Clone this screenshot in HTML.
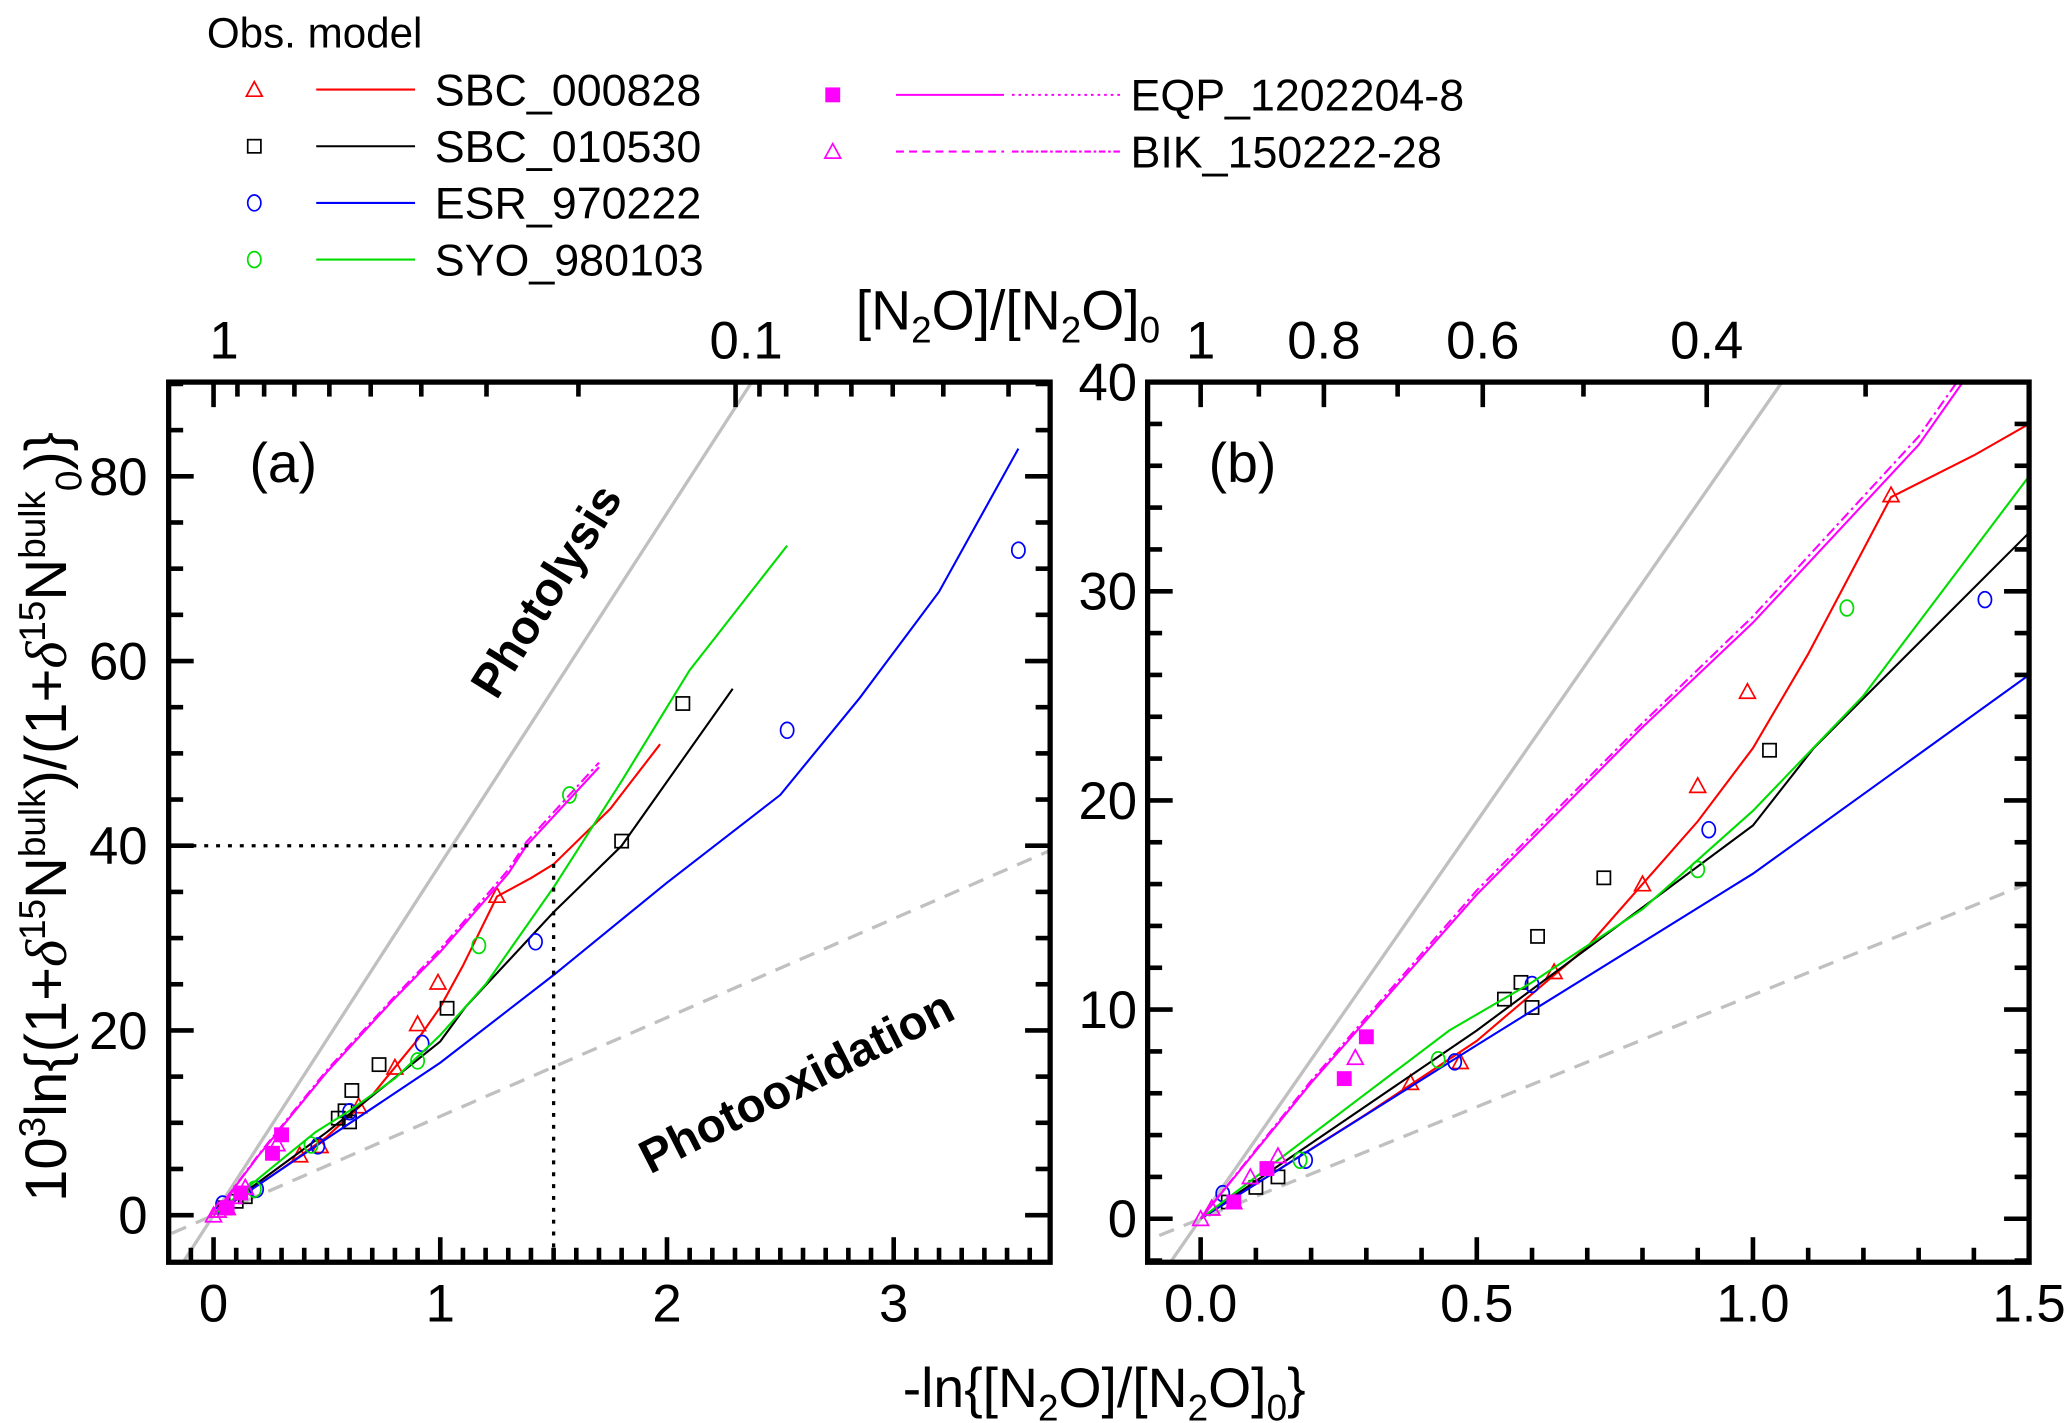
<!DOCTYPE html>
<html><head><meta charset="utf-8"><style>
html,body{margin:0;padding:0;background:#fff;}
svg{display:block;}
text{font-family:"Liberation Sans",Arial,sans-serif;}
</style></head><body>
<svg id="chart" width="2066" height="1423" viewBox="0 0 1568 1080" xmlns="http://www.w3.org/2000/svg">
<defs>
<clipPath id="clipA"><rect x="128" y="290" width="669" height="668"/></clipPath>
<clipPath id="clipB"><rect x="871" y="290" width="669" height="668"/></clipPath>
</defs>
<g id="legend"></g>
<g id="panelA"></g>
<g id="panelB"></g>
<text transform="translate(50,620) rotate(-90)" text-anchor="middle" font-size="44">10<tspan font-size="28" dy="-16">3</tspan><tspan dy="16">ln{(1+</tspan><tspan font-style="italic" font-family="Liberation Serif">δ</tspan><tspan font-size="28" dy="-16">15</tspan><tspan dy="16">N</tspan><tspan font-size="28" dy="-16">bulk</tspan><tspan dy="16">)/(1+</tspan><tspan font-style="italic" font-family="Liberation Serif">δ</tspan><tspan font-size="28" dy="-16">15</tspan><tspan dy="16">N</tspan><tspan font-size="28" dy="-16">bulk</tspan><tspan font-size="28" dy="28">0</tspan><tspan dy="-12">)}</tspan></text>
<text x="838" y="1068" text-anchor="middle" font-size="42">-ln{[N<tspan font-size="28" dy="10">2</tspan><tspan dy="-10">O]/[N</tspan><tspan font-size="28" dy="10">2</tspan><tspan dy="-10">O]</tspan><tspan font-size="28" dy="10">0</tspan><tspan dy="-10">}</tspan></text>
<text x="765" y="250" text-anchor="middle" font-size="42">[N<tspan font-size="28" dy="10">2</tspan><tspan dy="-10">O]/[N</tspan><tspan font-size="28" dy="10">2</tspan><tspan dy="-10">O]</tspan><tspan font-size="28" dy="10">0</tspan></text>
</svg>
<script>
// ---- data ----
const photolysisSlope = 38;
const photooxSlope = 10.7;
const sbc000828LineX = [0,0.3,0.5,0.7,0.9,1.0,1.1,1.25,1.4,1.5,1.75,1.97];
const sbc000828LineY = [0,5,8.5,13,19,22.5,27,34.5,36.5,38,44,51];
const sbc010530LineX = [0,0.5,1.0,1.11,1.5,1.8,2.29];
const sbc010530LineY = [0,9,18.8,22.5,32.8,40,57];
const esrLineX = [0,0.5,1.0,1.5,2.0,2.5,2.85,3.2,3.55];
const esrLineY = [0,8.3,16.5,26,36,45.5,56,67.5,83];
const syoLineX = [0,0.3,0.45,0.6,0.8,1.0,1.2,1.5,1.8,2.1,2.53];
const syoLineY = [0,6,9,11.3,14.8,19.5,25,35.5,47,59,72.5];
const eqpLineX = [0,0.2,0.5,0.8,1.0,1.3,1.38,1.7];
const eqpLineY = [0,6.5,15.5,23.5,28.5,37,40,48.5];
const bikLineX = [0,0.2,0.5,0.8,1.0,1.3,1.38,1.7];
const bikLineY = [0,6.6,15.7,23.7,28.8,37.4,40.4,49];
const sbc000828PtX = [0.02,0.06,0.38,0.47,0.64,0.8,0.9,0.99,1.25];
const sbc000828PtY = [0.5,0.8,6.5,7.5,11.8,16,20.7,25.2,34.6];
const sbc010530PtX = [0.05,0.1,0.14,0.55,0.58,0.6,0.61,0.73,1.03,1.8,2.07];
const sbc010530PtY = [0.8,1.5,2,10.5,11.3,10.1,13.5,16.3,22.4,40.5,55.4];
const esrPtX = [0.04,0.19,0.46,0.6,0.92,1.42,2.53,3.55];
const esrPtY = [1.2,2.8,7.5,11.2,18.6,29.6,52.5,72];
const syoPtX = [0.18,0.43,0.9,1.17,1.57];
const syoPtY = [2.8,7.6,16.7,29.2,45.5];
const eqpPtX = [0.06,0.12,0.26,0.3];
const eqpPtY = [0.8,2.4,6.7,8.7];
const bikPtX = [0,0.02,0.06,0.09,0.14,0.28];
const bikPtY = [0,0.5,0.8,2,3,7.7];
const aXTicks = [0,1,2,3];
const aYTicks = [0,20,40,60,80];
const aTopTicks = [1,0.1];
const bXTicks = ['0.0','0.5','1.0','1.5'];
const bYTicks = [0,10,20,30,40];
const bTopTicks = ['1','0.8','0.6','0.4'];

const NS='http://www.w3.org/2000/svg';
function mk(parent,tag,attrs){const e=document.createElementNS(NS,tag);for(const k in attrs)e.setAttribute(k,attrs[k]);parent.appendChild(e);return e;}

const A={x0:128,x1:797,y0:290,y1:958,xmin:-0.198,xmax:3.69,ymin:-5.1,ymax:90.2,clip:'clipA'};
const B={x0:871,x1:1540,y0:290,y1:958,xmin:-0.096,xmax:1.5,ymin:-2.08,ymax:40,clip:'clipB'};
function sx(P,v){return P.x0+(v-P.xmin)/(P.xmax-P.xmin)*(P.x1-P.x0);}
function sy(P,v){return P.y1-(v-P.ymin)/(P.ymax-P.ymin)*(P.y1-P.y0);}

function tri(g,x,y,c,fill){return mk(g,'path',{d:`M${x},${y-6}L${x+6},${y+5}L${x-6},${y+5}Z`,fill:fill||'none',stroke:c,'stroke-width':1.3});}
function sq(g,x,y,c,fill){return mk(g,'rect',{x:x-5,y:y-5,width:10,height:10,fill:fill||'none',stroke:c,'stroke-width':1.3});}
function circ(g,x,y,c){return mk(g,'ellipse',{cx:x,cy:y,rx:5,ry:6,fill:'none',stroke:c,'stroke-width':1.3});}

const series=[
 {n:'sbc-000828',c:'#ff0000',lx:sbc000828LineX,ly:sbc000828LineY,px:sbc000828PtX,py:sbc000828PtY,m:'tri',dash:''},
 {n:'sbc-010530',c:'#000000',lx:sbc010530LineX,ly:sbc010530LineY,px:sbc010530PtX,py:sbc010530PtY,m:'sq',dash:''},
 {n:'esr-970222',c:'#0000ff',lx:esrLineX,ly:esrLineY,px:esrPtX,py:esrPtY,m:'circ',dash:''},
 {n:'syo-980103',c:'#00dd00',lx:syoLineX,ly:syoLineY,px:syoPtX,py:syoPtY,m:'circ',dash:''},
 {n:'eqp-1202204-8',c:'#ff00ff',lx:eqpLineX,ly:eqpLineY,px:eqpPtX,py:eqpPtY,m:'fsq',dash:''},
 {n:'bik-150222-28',c:'#ff00ff',lx:bikLineX,ly:bikLineY,px:bikPtX,py:bikPtY,m:'tri',dash:'8 3 2 3'}
];

function drawPanel(g,P,pfx){
  const cg=mk(g,'g',{'clip-path':`url(#${P.clip})`});
  const refx=[P.xmin-0.2,P.xmax+1];
  const pl=mk(cg,'line',{x1:sx(P,refx[0]),y1:sy(P,refx[0]*photolysisSlope),x2:sx(P,refx[1]),y2:sy(P,refx[1]*photolysisSlope),stroke:'#c0c0c0','stroke-width':2.5});
  
  
  const po=mk(cg,'line',{x1:sx(P,refx[0]),y1:sy(P,refx[0]*photooxSlope),x2:sx(P,refx[1]),y2:sy(P,refx[1]*photooxSlope),stroke:'#c0c0c0','stroke-width':2.5,'stroke-dasharray':'12 8'});
  
  
  series.forEach(s=>{
    const pts=s.lx.map((x,i)=>sx(P,x).toFixed(1)+','+sy(P,s.ly[i]).toFixed(1)).join(' ');
    const l=mk(cg,'polyline',{points:pts,fill:'none',stroke:s.c,'stroke-width':1.6});
    if(s.dash)l.setAttribute('stroke-dasharray',s.dash);
    
    
    s.px.forEach((x,i)=>{
      const X=sx(P,x),Y=sy(P,s.py[i]);let e;
      if(s.m==='tri')e=tri(cg,X,Y,s.c);else if(s.m==='sq')e=sq(cg,X,Y,s.c);else if(s.m==='fsq')e=sq(cg,X,Y,s.c,s.c);else e=circ(cg,X,Y,s.c);
      
      
    });
  });
  const fr=mk(g,'rect',{x:P.x0,y:P.y0,width:P.x1-P.x0,height:P.y1-P.y0,fill:'none',stroke:'#000','stroke-width':4});
  
  
}
function tick(g,x1,y1,x2,y2){mk(g,'line',{x1,y1,x2,y2,stroke:'#000','stroke-width':3.5});}
function label(g,x,y,t,anchor,name){const e=mk(g,'text',{x,y,'font-size':40,'text-anchor':anchor||'middle'});e.textContent=t;return e;}

// Panel A
const ga=document.getElementById('panelA');
drawPanel(ga,A,'a');
mk(ga,'polyline',{points:`${A.x0},${sy(A,40)} ${sx(A,1.5)},${sy(A,40)} ${sx(A,1.5)},${A.y1}`,fill:'none',stroke:'#000','stroke-width':2.5,'stroke-dasharray':'3 6'});
for(let v=-0.1;v<=3.65;v+=0.1){const r=Math.round(v*10)/10;const x=sx(A,r);const maj=Math.abs(r-Math.round(r))<1e-6;tick(ga,x,A.y1,x,A.y1-(maj?19:11));}
aXTicks.forEach(v=>label(ga,sx(A,v),1003,String(v),'middle','a-x-tick-label'));
for(let v=0;v<=90;v+=5){const y=sy(A,v);const maj=v%20===0;tick(ga,A.x0,y,A.x0+(maj?19:11),y);tick(ga,A.x1,y,A.x1-(maj?19:11),y);}
aYTicks.forEach(v=>label(ga,112,sy(A,v)+14,String(v),'end','a-y-tick-label'));
[1,0.9,0.8,0.7,0.6,0.5,0.4,0.3,0.2,0.1,0.09,0.08,0.07,0.06,0.05,0.04,0.03].forEach(f=>{const x=sx(A,-Math.log(f));if(x<A.x1){const maj=(f===1||f===0.1);tick(ga,x,A.y0,x,A.y0+(maj?19:11));}});
aTopTicks.forEach(v=>label(ga,sx(A,-Math.log(v))+8,272,String(v),'middle','a-top-tick-label'));
label(ga,215,366,'(a)','middle','a-panel-label').setAttribute('font-size',42);
const t1=mk(ga,'text',{x:0,y:0,'font-size':36,'font-weight':'bold',transform:'translate(425,455) rotate(-58)','text-anchor':'middle'});t1.textContent='Photolysis';


const t2=mk(ga,'text',{x:0,y:0,'font-size':36,'font-weight':'bold',transform:'translate(610,832) rotate(-27)','text-anchor':'middle'});t2.textContent='Photooxidation';



// Panel B
const gb=document.getElementById('panelB');
drawPanel(gb,B,'b');
for(let i=0;i<=15;i++){const v=i/10;const x=sx(B,v);const maj=i%5===0;tick(gb,x,B.y1,x,B.y1-(maj?19:11));}
bXTicks.forEach(v=>label(gb,sx(B,parseFloat(v)),1003,v,'middle','b-x-tick-label'));
for(let v=-2;v<=40;v+=2){const y=sy(B,v);const maj=v%10===0;tick(gb,B.x0,y,B.x0+(maj?19:11),y);tick(gb,B.x1,y,B.x1-(maj?19:11),y);}
bYTicks.forEach(v=>label(gb,863,sy(B,v)+14,String(v),'end','b-y-tick-label'));
[1,0.9,0.8,0.7,0.6,0.5,0.4,0.3].forEach(f=>{const x=sx(B,-Math.log(f));const maj=[1,0.8,0.6,0.4].includes(f);tick(gb,x,B.y0,x,B.y0+(maj?19:11));});
bTopTicks.forEach(v=>label(gb,sx(B,-Math.log(parseFloat(v))),272,v,'middle','b-top-tick-label'));
label(gb,943,366,'(b)','middle','b-panel-label').setAttribute('font-size',42);

// Legend
const gl=document.getElementById('legend');
const ot=mk(gl,'text',{x:157,y:36,'font-size':32});ot.textContent='Obs. model';


const leg=[
 {t:'SBC_000828',s:0,x:193,lx:240,ly:68,tx:330},
 {t:'SBC_010530',s:1,x:193,lx:240,ly:111,tx:330},
 {t:'ESR_970222',s:2,x:193,lx:240,ly:154,tx:330},
 {t:'SYO_980103',s:3,x:193,lx:240,ly:197,tx:330},
 {t:'EQP_1202204-8',s:4,x:632,lx:680,ly:72,tx:858},
 {t:'BIK_150222-28',s:5,x:632,lx:680,ly:115,tx:858}
];
leg.forEach(L=>{
  const s=series[L.s];
  const g=mk(gl,'g',{});
  
  
  if(s.m==='tri')tri(g,L.x,L.ly,s.c);else if(s.m==='sq')sq(g,L.x,L.ly,s.c);else if(s.m==='fsq')sq(g,L.x,L.ly,s.c,s.c);else circ(g,L.x,L.ly,s.c);
  if(L.s<4){mk(g,'line',{x1:L.lx,y1:L.ly,x2:L.lx+75,y2:L.ly,stroke:s.c,'stroke-width':1.6});}
  else if(L.s===4){mk(g,'line',{x1:L.lx,y1:L.ly,x2:L.lx+82,y2:L.ly,stroke:s.c,'stroke-width':1.6});mk(g,'line',{x1:L.lx+88,y1:L.ly,x2:L.lx+170,y2:L.ly,stroke:s.c,'stroke-width':1.6,'stroke-dasharray':'2 3'});}
  else {mk(g,'line',{x1:L.lx,y1:L.ly,x2:L.lx+82,y2:L.ly,stroke:s.c,'stroke-width':1.6,'stroke-dasharray':'6 4'});mk(g,'line',{x1:L.lx+88,y1:L.ly,x2:L.lx+170,y2:L.ly,stroke:s.c,'stroke-width':1.6,'stroke-dasharray':'5 2 2 2'});}
  const tx=mk(g,'text',{x:L.tx,y:L.ly+12,'font-size':34});tx.textContent=L.t;
});
</script>
</body></html>
